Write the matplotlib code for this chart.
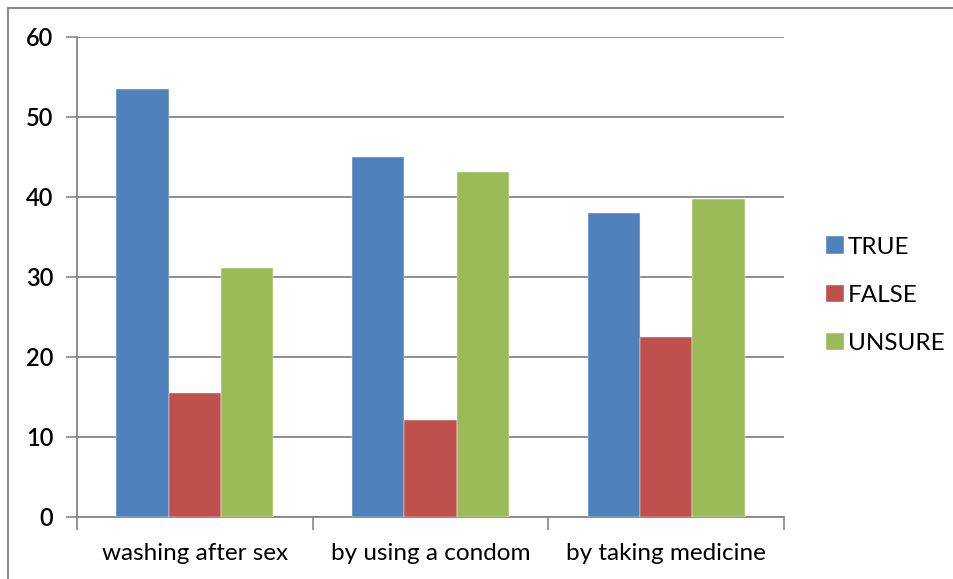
import matplotlib
matplotlib.use("Agg")
import matplotlib.pyplot as plt
import numpy as np
from matplotlib.lines import Line2D

categories = ["washing after sex", "by using a condom", "by taking medicine"]
series_names = ["TRUE", "FALSE", "UNSURE"]
true_vals = [53.5, 45.0, 38.0]
false_vals = [15.5, 12.1, 22.5]
unsure_vals = [31.1, 43.1, 39.7]
colors = ["#4F81BD", "#C0504D", "#9BBB59"]
y_ticks = [0, 10, 20, 30, 40, 50, 60]

plt.rcParams["font.family"] = ["Lato", "DejaVu Sans"]

fig = plt.figure(figsize=(9.54, 5.79), dpi=100)
ax = fig.add_axes([77 / 954, 1 - 517 / 579, 707 / 954, 480 / 579])

grid_color = "#868686"
x = np.arange(len(categories))
width = 1 / 4.5
for i, (name, vals) in enumerate(zip(series_names, [true_vals, false_vals, unsure_vals])):
    ax.bar(x + (i - 1) * width, vals, width, color=colors[i], label=name,
           edgecolor="white", linewidth=0.3, zorder=3)

ax.set_xlim(-0.5, len(categories) - 0.5)
ax.set_ylim(0, 60)
ax.set_yticks(y_ticks)
ax.set_yticklabels([str(v) for v in y_ticks], fontsize=17, fontweight="semibold")
ax.yaxis.grid(True, color=grid_color, linewidth=1.3, zorder=0)
ax.tick_params(axis="y", length=8, width=1.2, color=grid_color, pad=9)

# category labels centered, tick marks at category boundaries
ax.set_xticks(x)
ax.set_xticklabels(categories, fontsize=17.5)
ax.tick_params(axis="x", length=0, pad=19)
ax.set_xticks(np.arange(-0.5, len(categories), 1.0), minor=True)
ax.tick_params(axis="x", which="minor", length=9, width=1.2, color=grid_color)

for side in ["top", "right"]:
    ax.spines[side].set_visible(False)
for side in ["left", "bottom"]:
    ax.spines[side].set_color(grid_color)
    ax.spines[side].set_linewidth(1.3)

ax.legend(loc="center left", bbox_to_anchor=(1.028, 0.462), frameon=False,
          fontsize=17.5, handlelength=0.75, handleheight=0.75, handletextpad=0.15,
          labelspacing=1.1)

# outer chart border (top and left visible)
fig.add_artist(Line2D([8 / 954, 1], [1 - 8 / 579] * 2, color="#8c8c8c", linewidth=1.5))
fig.add_artist(Line2D([8 / 954] * 2, [0, 1 - 8 / 579], color="#8c8c8c", linewidth=1.5))

fig.savefig("out.png", dpi=100)
